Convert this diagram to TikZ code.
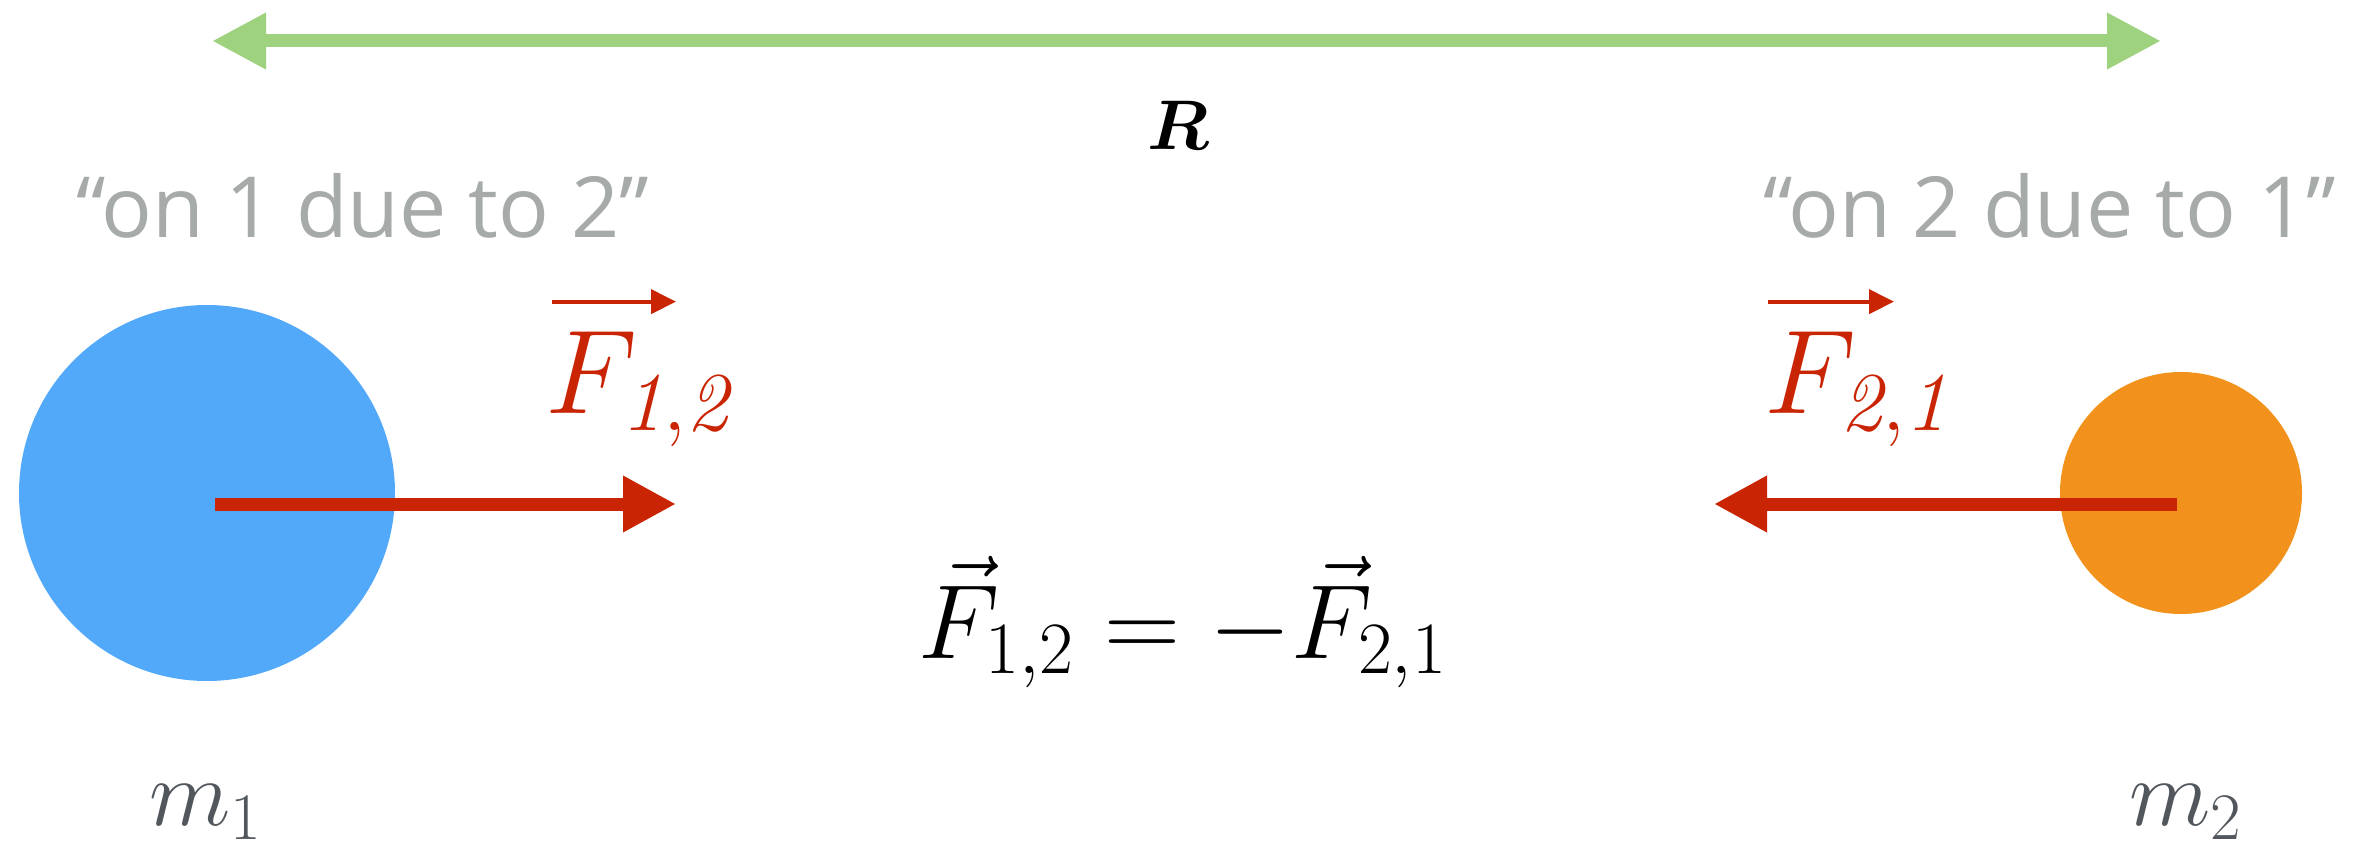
\RequirePackage{fix-cm}
\documentclass[tikz,border=0pt]{standalone}
\usepackage{amsmath}
\usepackage{fontspec}
\usepackage{xcolor}
\usepackage{tikz}
\usetikzlibrary{arrows.meta,positioning}
\newfontfamily\notefont{Open Sans}
\definecolor{massA}{HTML}{52A8F9}
\definecolor{massB}{HTML}{F2921D}
\definecolor{forcered}{HTML}{C92504}
\definecolor{notegray}{HTML}{A6AAA9}
\definecolor{sepgreen}{HTML}{9ED27F}
\definecolor{labgray}{HTML}{52575D}
\tikzset{
  mass/.style={circle, inner sep=0pt, draw=none},
  force/.style={-{Triangle[length=5.3mm, width=5.3mm]}, line width=1.3mm, forcered},
  vecbar/.style={-{Triangle[length=2.5mm, width=2.4mm]}, line width=0.4mm, forcered},
  dist/.style={{Triangle[length=5.4mm, width=5.3mm]}-{Triangle[length=5.4mm, width=5.3mm]}, line width=1.3mm, sepgreen},
  note/.style={font=\notefont\fontsize{24pt}{28pt}\selectfont, text=notegray, anchor=base, inner sep=0pt},
  flbl/.style={font=\fontsize{34pt}{40pt}\selectfont, text=forcered, anchor=base west, inner sep=0pt},
  mlbl/.style={font=\fontsize{27pt}{32pt}\selectfont, text=labgray, anchor=base, inner sep=0pt}
}
\begin{document}
\begin{tikzpicture}[x=0.1mm, y=-0.1mm]
\useasboundingbox (0,0) rectangle (2370,851);
\node[mass, fill=massA, minimum size=37.6mm] (m1) at (207,493) {};
\node[mass, fill=massB, minimum size=24.2mm] (m2) at (2181,493) {};
\coordinate (rl) at (212,41);
\coordinate (rr) at (2161,41);
\draw[dist] (rl) -- (rr);
\node[font=\fontsize{20pt}{24pt}\selectfont, anchor=base, inner sep=0pt] (r) at (1178,150) {$\boldsymbol{R}$};
\node[note] (n12) at (363,238) {“on 1 due to 2”};
\node[note] (n21) at (2050,238) {“on 2 due to 1”};
\coordinate (f12s) at (215,504);
\coordinate (f12e) at (676,504);
\coordinate (f21s) at (2177,504);
\coordinate (f21e) at (1714,504);
\draw[force] (f12s) -- (f12e);
\draw[force] (f21s) -- (f21e);
\node[flbl] (f12) at (545,413) {$F_{\mathit{1,2}}$};
\node[flbl] (f21) at (1764,413) {$F_{\mathit{2,1}}$};
\draw[vecbar] ([shift={(7,-29)}]f12.north west) -- ++(124,0);
\draw[vecbar] ([shift={(4,-29)}]f21.north west) -- ++(126,0);
\node[font=\fontsize{30pt}{36pt}\selectfont, anchor=base, inner sep=0pt] (eq) at (1183,658) {$\vec{F}_{1,2} = -\vec{F}_{2,1}$};
\node[mlbl] (l1) at (206,825) {$m_1$};
\node[mlbl] (l2) at (2186,825) {$m_2$};
\end{tikzpicture}
\end{document}
